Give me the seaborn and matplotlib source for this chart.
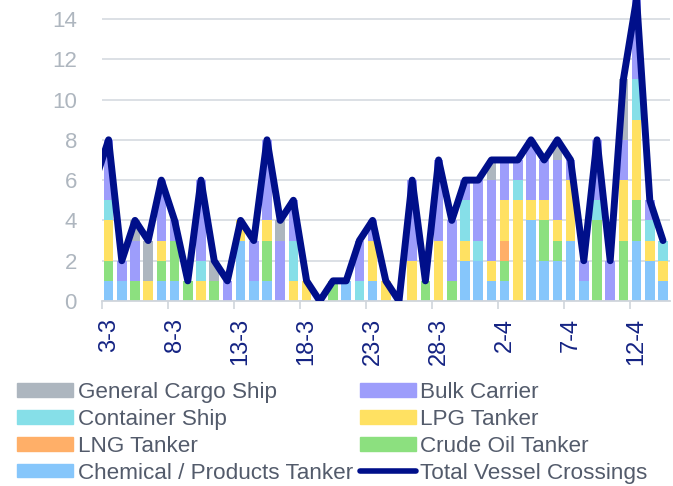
import numpy as np
import pandas as pd
import matplotlib
matplotlib.use('Agg')
import matplotlib.pyplot as plt
import seaborn as sns
from matplotlib.patches import Patch
from matplotlib.lines import Line2D

# Daily vessel crossings, 2-3 to 14-4 (2-3 only shows as the clipped start of the line)
dates = [f"{d.day}-{d.month}" for d in pd.date_range('2025-03-02', '2025-04-14')]

chemical = [0, 1, 1, 0, 0, 1, 1, 0, 0, 0, 0, 3, 1, 1, 0, 0, 0, 0, 0, 1, 0, 1, 0,
            0, 0, 0, 0, 0, 2, 2, 1, 1, 0, 4, 2, 2, 3, 1, 0, 0, 0, 3, 2, 1]
crude = [0, 1, 0, 1, 0, 1, 2, 1, 0, 1, 0, 0, 0, 2, 0, 0, 0, 0, 1, 0, 0, 0, 0,
         0, 0, 1, 0, 1, 0, 0, 0, 1, 0, 0, 2, 1, 0, 0, 4, 0, 3, 2, 0, 0]
lng = [0, 0, 0, 0, 0, 0, 0, 0, 0, 0, 0, 0, 0, 0, 0, 0, 0, 0, 0, 0, 0, 0, 0,
       0, 0, 0, 0, 0, 0, 0, 0, 1, 0, 0, 0, 0, 0, 0, 0, 0, 0, 0, 0, 0]
lpg = [0, 2, 0, 0, 1, 1, 0, 0, 1, 0, 0, 1, 0, 1, 0, 1, 1, 0, 0, 0, 0, 2, 1,
       0, 2, 0, 3, 0, 1, 0, 1, 2, 5, 1, 1, 1, 3, 0, 0, 0, 3, 4, 1, 1]
container = [0, 1, 0, 0, 0, 0, 0, 0, 1, 0, 0, 0, 0, 0, 0, 2, 0, 0, 0, 0, 1, 0, 0,
             0, 0, 0, 0, 0, 2, 1, 0, 0, 1, 0, 0, 0, 0, 0, 1, 0, 0, 2, 1, 1]
bulk = [0, 3, 1, 2, 0, 3, 1, 0, 4, 0, 1, 0, 2, 4, 3, 2, 0, 0, 0, 0, 2, 1, 0,
        0, 4, 0, 4, 3, 1, 3, 4, 2, 1, 3, 2, 3, 1, 1, 3, 2, 2, 4, 1, 0]
general = [0, 0, 0, 1, 2, 0, 0, 0, 0, 1, 0, 0, 0, 0, 1, 0, 0, 0, 0, 0, 0, 0, 0,
           0, 0, 0, 0, 0, 0, 0, 1, 0, 0, 0, 0, 1, 0, 0, 0, 0, 3, 0, 0, 0]
total = [6, 8, 2, 4, 3, 6, 4, 1, 6, 2, 1, 4, 3, 8, 4, 5, 1, 0, 1, 1, 3, 4, 1,
         0, 6, 1, 7, 4, 6, 6, 7, 7, 7, 8, 7, 8, 7, 2, 8, 2, 11, 15, 5, 3]

tick_labels = ['3-3', '8-3', '13-3', '18-3', '23-3', '28-3', '2-4', '7-4', '12-4']

# stacking order bottom -> top
layers = [
    ('Chemical / Products Tanker', chemical, '#86C6FB'),
    ('Crude Oil Tanker', crude, '#8CE07F'),
    ('LNG Tanker', lng, '#FFAF68'),
    ('LPG Tanker', lpg, '#FFE162'),
    ('Container Ship', container, '#86DFE8'),
    ('Bulk Carrier', bulk, '#9D9DFB'),
    ('General Cargo Ship', general, '#ADB6BF'),
]
line_color = '#000F8A'

sns.set_theme(style='white')
plt.rcParams['font.family'] = ['Liberation Sans', 'DejaVu Sans']

fig = plt.figure(figsize=(6.73, 4.86), dpi=100)
ax = fig.add_axes([102 / 673, 185 / 486, 567.6 / 673, 301 / 486])

x = np.arange(len(dates))
bottom = np.zeros(len(dates))
for name, vals, color in layers:
    vals = np.array(vals, dtype=float)
    ax.bar(x, vals, width=0.72, bottom=bottom, color=color, linewidth=0, zorder=2)
    bottom += vals

sns.lineplot(x=x, y=total, ax=ax, color=line_color, linewidth=5,
             solid_joinstyle='round', zorder=3)

ax.set_xlim(0.5, len(dates) - 0.5)
ax.set_ylim(0, 14.94)
ax.set_yticks(range(0, 15, 2))
ax.yaxis.grid(True, color='#D9DDE3', linewidth=1.3, zorder=0)
ax.tick_params(axis='y', length=0, pad=18, labelsize=16, labelcolor='#AEB6BF')

pos = [dates.index(t) for t in tick_labels]
ax.set_xticks(pos)
ax.set_xticklabels(tick_labels, rotation=90, fontsize=17, color='#142383')
ax.set_xticks([p - 0.5 for p in pos], minor=True)
ax.tick_params(axis='x', which='major', length=0, pad=12)
ax.tick_params(axis='x', which='minor', length=6, width=1.2, color='#D0D5DC', bottom=True)

for s in ['top', 'right', 'left']:
    ax.spines[s].set_visible(False)
ax.spines['bottom'].set_color('#D0D5DC')
ax.spines['bottom'].set_linewidth(1.3)
ax.set_xlabel('')
ax.set_ylabel('')

colors = {name: c for name, _, c in layers}
order_col1 = ['General Cargo Ship', 'Container Ship', 'LNG Tanker', 'Chemical / Products Tanker']
order_col2 = ['Bulk Carrier', 'LPG Tanker', 'Crude Oil Tanker']
handles = [Patch(color=colors[n], label=n) for n in order_col1]
handles += [Patch(color=colors[n], label=n) for n in order_col2]
handles.append(Line2D([0], [0], color=line_color, linewidth=4, solid_capstyle='round',
                      label='Total Vessel Crossings'))

fig.legend(handles=handles, ncol=2, loc='upper left',
           bbox_to_anchor=(17 / 673, 1 - 382 / 486), frameon=False,
           fontsize=16.2, labelcolor='#535B6B', handlelength=2.5, handleheight=0.55,
           handletextpad=0.2, columnspacing=0.3, labelspacing=0.26,
           borderpad=0, borderaxespad=0)

fig.savefig('out.png', dpi=100)
